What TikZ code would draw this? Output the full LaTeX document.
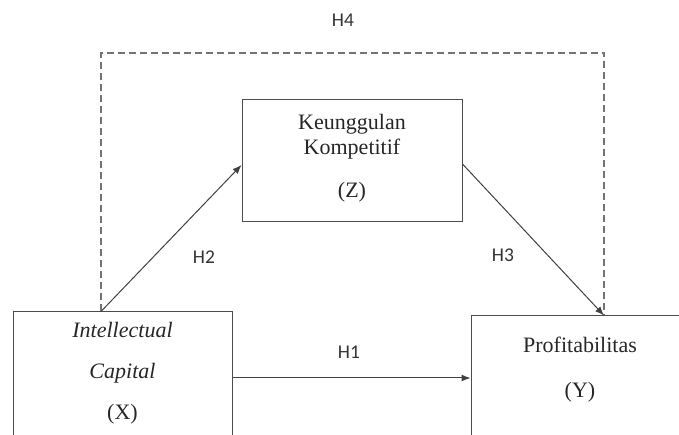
\documentclass[tikz,border=0pt]{standalone}
\usepackage{fontspec}
\setmainfont{Liberation Serif}
\newfontfamily\hfont{Carlito}
\usetikzlibrary{arrows.meta,positioning}

\begin{document}
\begin{tikzpicture}[x=1pt,y=1pt,>={Latex[length=9pt,width=7pt]},
	box/.style={draw=black!70,line width=1pt,rectangle,inner sep=0pt,align=center,text=black!85,font=\fontsize{22}{25}\selectfont},
	txt/.style={align=center,text=black!85,font=\fontsize{22}{25}\selectfont},
	hyp/.style={text=black!80,font=\hfont\fontsize{19.5}{22}\selectfont},
	arr/.style={->,draw=black!75,line width=1pt},
	dashline/.style={draw=black!55,line width=1.3pt,dash pattern=on 7pt off 4pt}]
	
	\useasboundingbox (0,0) rectangle (679,435);
	
	\node[box,minimum width=219,minimum height=133] (X) at (122.5,56.5) {};
	\node[txt] (Xtxt) at (122.5,62) {\textit{Intellectual}\\[16pt]\textit{Capital}\\[16pt](X)};
	\node[box,minimum width=220,minimum height=122] (Z) at (352,274) {};
	\node[txt] (Ztxt) at (352,277) {Keunggulan\\Kompetitif\\[18pt](Z)};
	\node[box,minimum width=218,minimum height=129] (Y) at (580,54.5) {};
	\node[txt] (Ytxt) at (580,65.5) {Profitabilitas\\[20pt](Y)};
	
	\coordinate (xtop) at ([xshift=-21.5pt]X.north);
	\coordinate (ytop) at ([xshift=24pt]Y.north);
	\coordinate (h4top) at (352,382);
	
	\draw[dashline] (xtop) |- (h4top) -| (ytop);
	\draw[arr] ([yshift=-5pt]Xtxt.east -| X.east) -- ([yshift=-5pt]Xtxt.east -| Y.west);
	\draw[arr] (xtop) -- ([yshift=-4pt]Z.west);
	\draw[arr] ([yshift=-3pt]Z.east) -- (ytop);
	
	\node[hyp] (h1) at (349,83) {H1};
	\node[hyp] (h2) at (204,178) {H2};
	\node[hyp] (h3) at (503,180) {H3};
	\node[hyp] (h4) at (343,415) {H4};
\end{tikzpicture}
\end{document}
